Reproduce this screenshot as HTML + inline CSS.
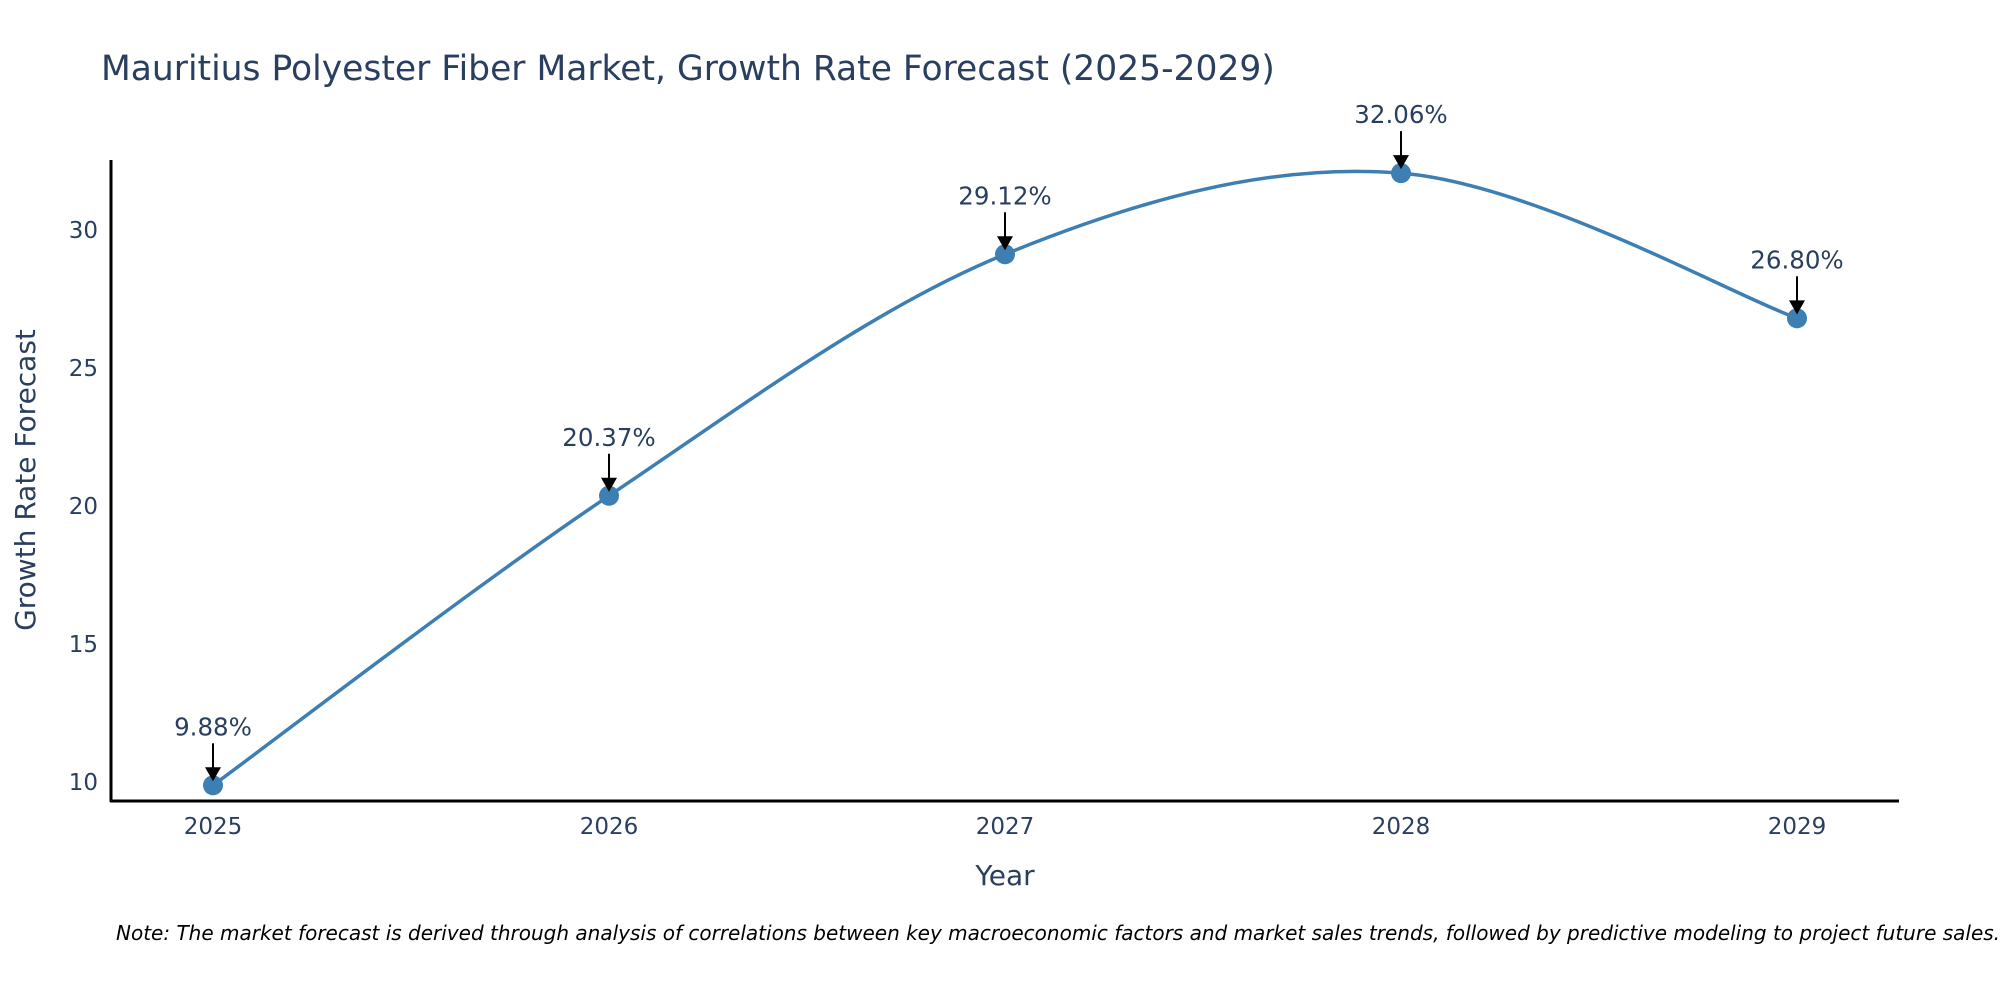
<!DOCTYPE html>
<html><head><meta charset="utf-8"><style>
body{margin:0;background:#fff}
svg{display:block;font-family:"DejaVu Sans","Liberation Sans",sans-serif}
</style></head><body>
<svg id="chart" width="2000" height="1000">
<text x="101" y="80" font-size="34.5" fill="#2a3f5f">Mauritius Polyester Fiber Market, Growth Rate Forecast (2025-2029)</text>
<g id="yticks"></g>
<g id="xticks"></g>
<line x1="111" y1="160" x2="111" y2="802" stroke="#000" stroke-width="3"/>
<line x1="110" y1="801" x2="1899" y2="801" stroke="#000" stroke-width="3"/>
<text transform="translate(35,480) rotate(-90)" text-anchor="middle" font-size="28" fill="#2a3f5f">Growth Rate Forecast</text>
<text x="1005" y="885" text-anchor="middle" font-size="28" fill="#2a3f5f">Year</text>
<g id="series"></g>
<text x="116" y="940" font-size="20" font-style="italic" fill="#000">Note: The market forecast is derived through analysis of correlations between key macroeconomic factors and market sales trends, followed by predictive modeling to project future sales.</text>
</svg>
<script>
const years=[2025,2026,2027,2028,2029];
const values=[9.88,20.37,29.12,32.06,26.80];
const labels=["9.88%","20.37%","29.12%","32.06%","26.80%"];
const yTicks=[10,15,20,25,30];
const NS="http://www.w3.org/2000/svg";
function X(yr){return 213+(yr-2025)*(1797-213)/4;}
function Y(v){return 782-(v-10)*(552/20);}
function mk(t,a,p){const e=document.createElementNS(NS,t);for(const k in a)e.setAttribute(k,a[k]);p.appendChild(e);return e;}
const yt=document.getElementById('yticks');
yTicks.forEach(t=>{const e=mk('text',{x:98,y:Y(t)+8,'text-anchor':'end','font-size':23,fill:'#2a3f5f'},yt);


e.textContent=t;});
const xt=document.getElementById('xticks');
years.forEach(yr=>{const e=mk('text',{x:X(yr),y:834,'text-anchor':'middle','font-size':23,fill:'#2a3f5f'},xt);


e.textContent=yr;});
const g=document.getElementById('series');
const pts=years.map((yr,i)=>[X(yr),Y(values[i])]);
let d=`M${pts[0][0]},${pts[0][1]}`;
for(let i=0;i<pts.length-1;i++){const p0=pts[Math.max(0,i-1)],p1=pts[i],p2=pts[i+1],p3=pts[Math.min(pts.length-1,i+2)];
const c1=[p1[0]+(p2[0]-p0[0])/6,p1[1]+(p2[1]-p0[1])/6],c2=[p2[0]-(p3[0]-p1[0])/6,p2[1]-(p3[1]-p1[1])/6];
d+=` C${c1[0]},${c1[1]} ${c2[0]},${c2[1]} ${p2[0]},${p2[1]}`;}
const path=mk('path',{d:d,fill:'none',stroke:'#3d7fb3','stroke-width':3.5},g);


pts.forEach((p,i)=>{
const c=mk('circle',{cx:p[0],cy:p[1],r:10,fill:'#3d7fb3'},g);


const l=mk('line',{x1:p[0],y1:p[1]-42,x2:p[0],y2:p[1]-16,stroke:'#000','stroke-width':2},g);


const h=mk('polygon',{points:`${p[0]-8},${p[1]-18} ${p[0]+8},${p[1]-18} ${p[0]},${p[1]-4}`,fill:'#000'},g);


const t=mk('text',{x:p[0],y:p[1]-50,'text-anchor':'middle','font-size':24.5,fill:'#2a3f5f'},g);


t.textContent=labels[i];});
</script>
</body></html>
